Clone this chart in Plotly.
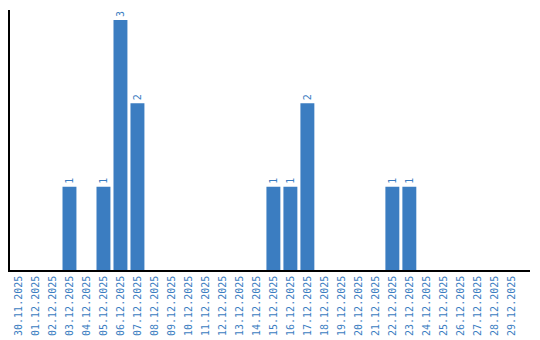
import plotly.graph_objects as go

dates = ["30.11.2025", "01.12.2025", "02.12.2025", "03.12.2025", "04.12.2025",
         "05.12.2025", "06.12.2025", "07.12.2025", "08.12.2025", "09.12.2025",
         "10.12.2025", "11.12.2025", "12.12.2025", "13.12.2025", "14.12.2025",
         "15.12.2025", "16.12.2025", "17.12.2025", "18.12.2025", "19.12.2025",
         "20.12.2025", "21.12.2025", "22.12.2025", "23.12.2025", "24.12.2025",
         "25.12.2025", "26.12.2025", "27.12.2025", "28.12.2025", "29.12.2025"]
counts = [0, 0, 0, 1, 0, 1, 3, 2, 0, 0, 0, 0, 0, 0, 0,
          1, 1, 2, 0, 0, 0, 0, 1, 1, 0, 0, 0, 0, 0, 0]

BLUE = "#3b7dc1"
labels = [str(c) if c > 0 else "" for c in counts]

fig = go.Figure(go.Bar(
    x=dates, y=counts, marker_color=BLUE, marker_line_width=0,
    text=labels, textposition="outside", textangle=-90,
    textfont=dict(color=BLUE, size=10, family="DejaVu Sans Mono"),
    cliponaxis=False,
))
fig.update_layout(
    width=540, height=340, margin=dict(l=10, r=10, t=10, b=70),
    plot_bgcolor="white", paper_bgcolor="white", showlegend=False,
    bargap=0.18,
)
fig.update_xaxes(type="category", range=[-0.5, 30.1], showline=True, linecolor="black",
                 linewidth=1.5, tickangle=-90, showgrid=False, ticks="", automargin=False,
                 tickfont=dict(color=BLUE, size=10, family="DejaVu Sans Mono"))
fig.update_yaxes(range=[0, 3.12], showline=True, linecolor="black", linewidth=2,
                 automargin=False,
                 showticklabels=False, showgrid=False, zeroline=False, ticks="")
fig.write_html("out.html")
